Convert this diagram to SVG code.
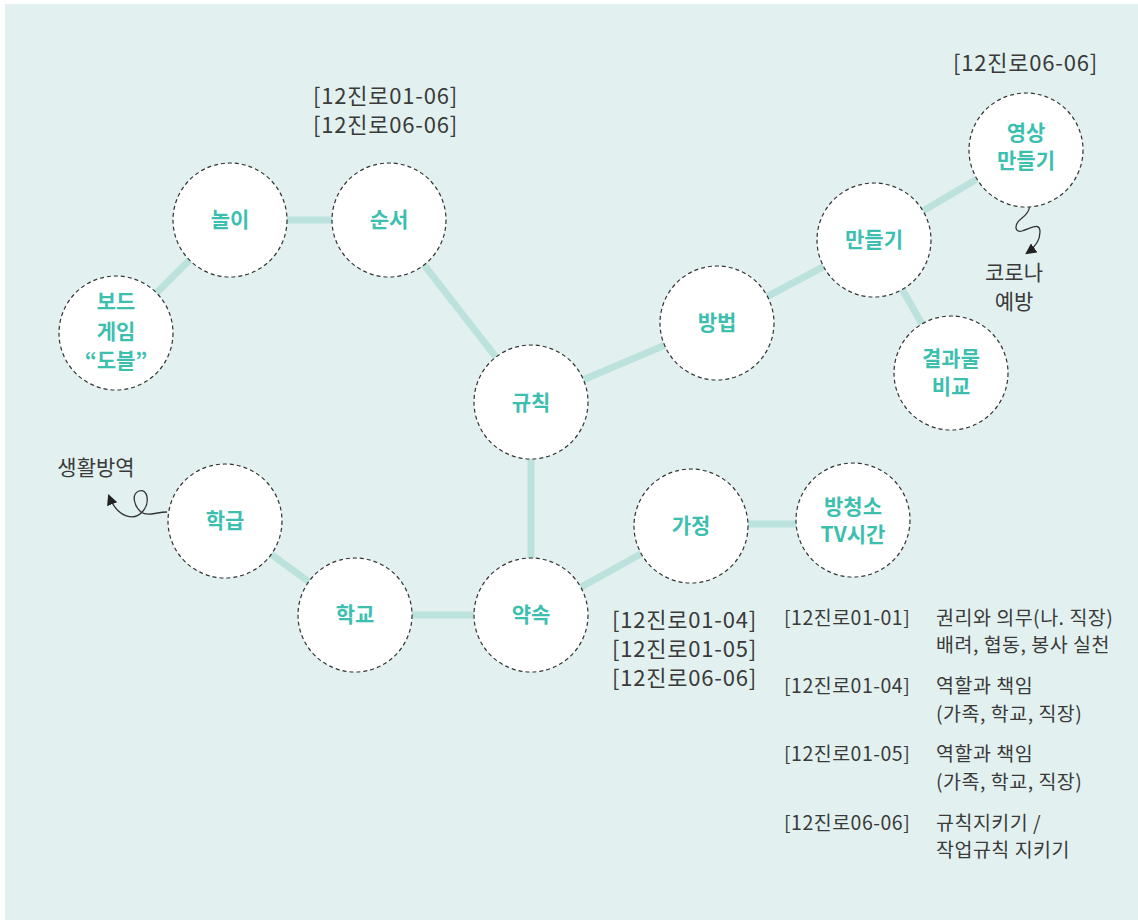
<svg xmlns="http://www.w3.org/2000/svg" width="1138" height="920" viewBox="0 0 1138 920">
<style>
.bg{fill:#e2f1f0}
.link{stroke:#bce2dd;stroke-width:7;fill:none}
.node circle{fill:#fff;stroke:#333;stroke-width:1.2;stroke-dasharray:4 3}
.lbl{font-family:"Noto Sans CJK KR","Noto Sans",sans-serif;font-weight:700;font-size:21px;fill:#3dbfb0;text-anchor:middle}
.code{font-family:"Noto Sans CJK KR","Noto Sans",sans-serif;font-size:22px;letter-spacing:0.8px;fill:#3a3a3a}
.code2{font-family:"Noto Sans CJK KR","Noto Sans",sans-serif;font-size:19.5px;letter-spacing:0.5px;fill:#3a3a3a}
.note{font-family:"Noto Sans CJK KR","Noto Sans",sans-serif;font-size:21px;fill:#3a3a3a;text-anchor:middle}
.curl{stroke:#333;stroke-width:1.3;fill:none}
</style>
<defs>
<marker id="ah" viewBox="0 0 10 10" refX="8" refY="5" markerWidth="11" markerHeight="11" markerUnits="userSpaceOnUse" orient="auto">
<path d="M0,0 L10,5 L0,10 Z" fill="#222"/>
</marker>
</defs>
<rect class="bg" x="5" y="4" width="1133" height="916"/>
<g id="connectors">
<line class="link" x1="116" y1="333" x2="230" y2="220"/>
<line class="link" x1="230" y1="220" x2="389" y2="220"/>
<line class="link" x1="389" y1="220" x2="531" y2="402"/>
<line class="link" x1="531" y1="402" x2="717" y2="323"/>
<line class="link" x1="717" y1="323" x2="874" y2="240"/>
<line class="link" x1="874" y1="240" x2="1026" y2="150"/>
<line class="link" x1="874" y1="240" x2="950" y2="373"/>
<line class="link" x1="531" y1="402" x2="531" y2="615"/>
<line class="link" x1="225" y1="521" x2="355" y2="615"/>
<line class="link" x1="355" y1="615" x2="531" y2="615"/>
<line class="link" x1="531" y1="615" x2="691" y2="526"/>
<line class="link" x1="691" y1="524" x2="853" y2="524"/>
<path class="curl" d="M167,512 C156,512 148,517 141,512 C134,506 131,494 139,491 C148,488 150,503 143,511 C135,521 118,519 109,496" marker-end="url(#ah)"/>
<path class="curl" d="M1023,194 C1034,202 1030,212 1022,218 C1013,225 1015,233 1022,231 C1032,228 1040,222 1040,232 C1040,242 1034,248 1027,253" marker-end="url(#ah)"/>
</g>
<g id="n-board" class="node"><circle cx="116" cy="333" r="57"/><text class="lbl" x="116" y="309">보드</text><text class="lbl" x="116" y="339">게임</text><text class="lbl" x="116" y="368">“도블”</text></g>
<g id="n-play" class="node"><circle cx="230" cy="220" r="57"/><text class="lbl" x="230" y="227">놀이</text></g>
<g id="n-order" class="node"><circle cx="389" cy="220" r="57"/><text class="lbl" x="389" y="227">순서</text></g>
<g id="n-rule" class="node"><circle cx="531" cy="402" r="57"/><text class="lbl" x="531" y="410">규칙</text></g>
<g id="n-method" class="node"><circle cx="717" cy="323" r="57"/><text class="lbl" x="717" y="330">방법</text></g>
<g id="n-make" class="node"><circle cx="874" cy="240" r="57"/><text class="lbl" x="874" y="247">만들기</text></g>
<g id="n-video" class="node"><circle cx="1026" cy="150" r="57"/><text class="lbl" x="1026" y="140">영상</text><text class="lbl" x="1026" y="168">만들기</text></g>
<g id="n-result" class="node"><circle cx="951" cy="373" r="57"/><text class="lbl" x="951" y="366">결과물</text><text class="lbl" x="951" y="394">비교</text></g>
<g id="n-class" class="node"><circle cx="225" cy="521" r="57"/><text class="lbl" x="225" y="528">학급</text></g>
<g id="n-school" class="node"><circle cx="355" cy="615" r="57"/><text class="lbl" x="355" y="622">학교</text></g>
<g id="n-promise" class="node"><circle cx="531" cy="615" r="57"/><text class="lbl" x="531" y="622">약속</text></g>
<g id="n-home" class="node"><circle cx="691" cy="526" r="57"/><text class="lbl" x="691" y="533">가정</text></g>
<g id="n-clean" class="node"><circle cx="853" cy="520" r="57"/><text class="lbl" x="853" y="514">방청소</text><text class="lbl" x="853" y="542">TV시간</text></g>
<g id="notes">
<text class="code" x="313" y="104">[12진로01-06]</text>
<text class="code" x="313" y="133">[12진로06-06]</text>
<text class="code" x="953" y="71">[12진로06-06]</text>
<text class="note" x="1014" y="280">코로나</text>
<text class="note" x="1014" y="309">예방</text>
<text class="note" x="96" y="475">생활방역</text>
<text class="code" x="612" y="628">[12진로01-04]</text>
<text class="code" x="612" y="657">[12진로01-05]</text>
<text class="code" x="612" y="686">[12진로06-06]</text>
<text class="code2" x="784" y="625">[12진로01-01]</text>
<text class="code2" x="936" y="625">권리와 의무(나. 직장)</text>
<text class="code2" x="936" y="652">배려, 협동, 봉사 실천</text>
<text class="code2" x="784" y="693">[12진로01-04]</text>
<text class="code2" x="936" y="693">역할과 책임</text>
<text class="code2" x="936" y="721">(가족, 학교, 직장)</text>
<text class="code2" x="784" y="761">[12진로01-05]</text>
<text class="code2" x="936" y="761">역할과 책임</text>
<text class="code2" x="936" y="789">(가족, 학교, 직장)</text>
<text class="code2" x="784" y="830">[12진로06-06]</text>
<text class="code2" x="936" y="830">규칙지키기 /</text>
<text class="code2" x="936" y="857">작업규칙 지키기</text>
</g>
</svg>
